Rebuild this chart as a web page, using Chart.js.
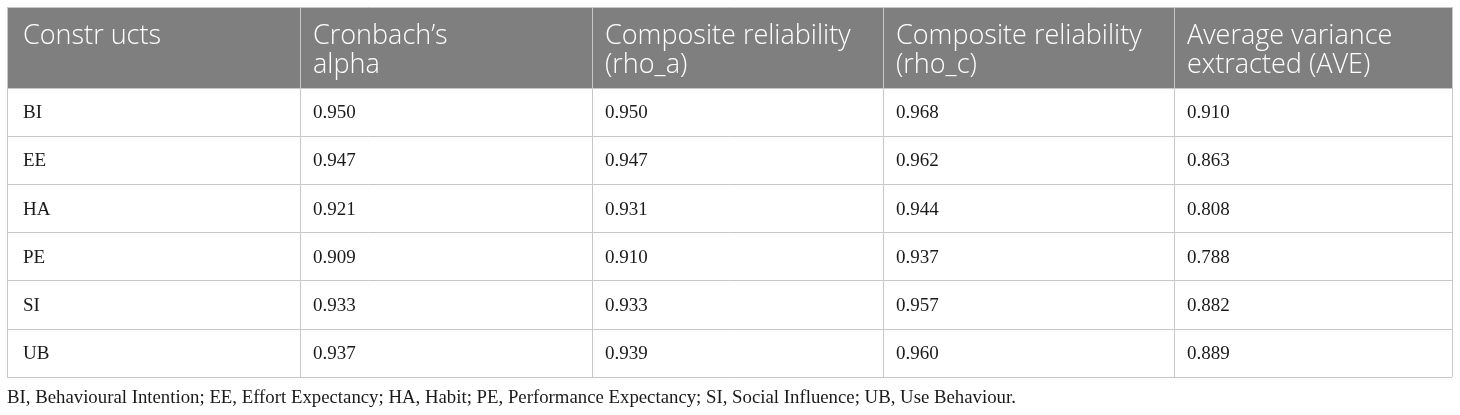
<!DOCTYPE html>
<html>
<head>
<meta charset="utf-8">
<title>Reliability table</title>
<script src="https://cdn.jsdelivr.net/npm/chart.js@4"></script>
<style>
  html, body { margin: 0; padding: 0; background: #fff; }
  #table { display: block; }
</style>
</head>
<body>
<canvas id="table" width="1460" height="415"></canvas>
<script>
// Table data
const headers = [
  ["Constr ucts"],
  ["Cronbach\u2019s", "alpha"],
  ["Composite reliability", "(rho_a)"],
  ["Composite reliability", "(rho_c)"],
  ["Average variance", "extracted (AVE)"]
];
const constructs = ["BI", "EE", "HA", "PE", "SI", "UB"];
const cronbachAlpha = [0.950, 0.947, 0.921, 0.909, 0.933, 0.937];
const rhoA = [0.950, 0.947, 0.931, 0.910, 0.933, 0.939];
const rhoC = [0.968, 0.962, 0.944, 0.937, 0.957, 0.960];
const ave = [0.910, 0.863, 0.808, 0.788, 0.882, 0.889];
const footnote = "BI, Behavioural Intention; EE, Effort Expectancy; HA, Habit; PE, Performance Expectancy; SI, Social Influence; UB, Use Behaviour.";

// Grid layout (column / row edges in axis units)
const colEdges = [0, 293, 585, 876, 1167, 1445];
const headerHeight = 81;
const rowHeight = 48.2;
const rowEdges = [0];
for (let i = 0; i <= constructs.length; i++) rowEdges.push(headerHeight + i * rowHeight);

const valueColumns = [constructs, cronbachAlpha, rhoA, rhoC, ave];

// one point per body cell, anchored at the cell's left edge / row centre
const cells = [];
valueColumns.forEach((col, c) => {
  col.forEach((v, r) => {
    cells.push({
      x: colEdges[c],
      y: headerHeight + (r + 0.5) * rowHeight,
      label: typeof v === "number" ? v.toFixed(3) : v
    });
  });
});

const tablePlugin = {
  id: "tablePlugin",
  beforeDraw(chart) {
    const { ctx, scales: { x, y } } = chart;
    ctx.save();
    ctx.fillStyle = "#7f7f7f";
    const top = y.getPixelForValue(0);
    const bot = y.getPixelForValue(headerHeight);
    ctx.fillRect(x.getPixelForValue(0), top, x.getPixelForValue(colEdges[colEdges.length - 1]) - x.getPixelForValue(0), bot - top);
    ctx.restore();
  },
  afterDatasetsDraw(chart) {
    const { ctx, scales: { x, y } } = chart;
    ctx.save();
    // header
    ctx.fillStyle = "#ffffff";
    ctx.font = "300 27px 'Open Sans'";
    ctx.textBaseline = "alphabetic";
    ctx.textAlign = "left";
    headers.forEach((lines, c) => {
      const px = x.getPixelForValue(colEdges[c]) + (c === 0 ? 16 : 13);
      lines.forEach((t, i) => {
        ctx.fillText(t, px, y.getPixelForValue(37 + i * 29));
      });
    });
    // body
    ctx.fillStyle = "#1a1a1a";
    ctx.font = "19px 'Liberation Serif'";
    ctx.textBaseline = "middle";
    const meta = chart.getDatasetMeta(0);
    meta.data.forEach((pt, i) => {
      const pad = cells[i].x === 0 ? 16 : 13;
      ctx.fillText(cells[i].label, pt.x + pad, pt.y + 1);
    });
    ctx.restore();
  }
};

const noSize = scale => { scale.width = scale.isHorizontal() ? scale.width : 0; scale.height = scale.isHorizontal() ? 0 : scale.height; };

new Chart(document.getElementById("table"), {
  type: "scatter",
  data: {
    datasets: [{
      data: cells,
      pointRadius: 0,
      pointHoverRadius: 0
    }]
  },
  options: {
    responsive: false,
    animation: false,
    devicePixelRatio: 1,
    events: [],
    layout: { padding: { left: 7, right: 8, top: 7, bottom: 6 } },
    plugins: {
      legend: { display: false },
      tooltip: { enabled: false },
      title: {
        display: true,
        position: "bottom",
        align: "start",
        text: footnote,
        color: "#1a1a1a",
        font: { family: "'Liberation Serif'", size: 18.8, weight: "normal", lineHeight: 1.2 },
        padding: { top: 9, bottom: 0 }
      }
    },
    scales: {
      x: {
        type: "linear",
        min: colEdges[0],
        max: colEdges[colEdges.length - 1],
        afterBuildTicks: s => { s.ticks = colEdges.map(v => ({ value: v })); },
        afterFit: noSize,
        ticks: { display: false },
        border: { display: false },
        grid: { color: "#c8c8c8", lineWidth: 1, drawTicks: false }
      },
      y: {
        type: "linear",
        reverse: true,
        min: rowEdges[0],
        max: rowEdges[rowEdges.length - 1],
        afterBuildTicks: s => { s.ticks = rowEdges.map(v => ({ value: v })); },
        afterFit: noSize,
        ticks: { display: false },
        border: { display: false },
        grid: { color: "#c8c8c8", lineWidth: 1, drawTicks: false }
      }
    }
  },
  plugins: [tablePlugin]
});
</script>
</body>
</html>
